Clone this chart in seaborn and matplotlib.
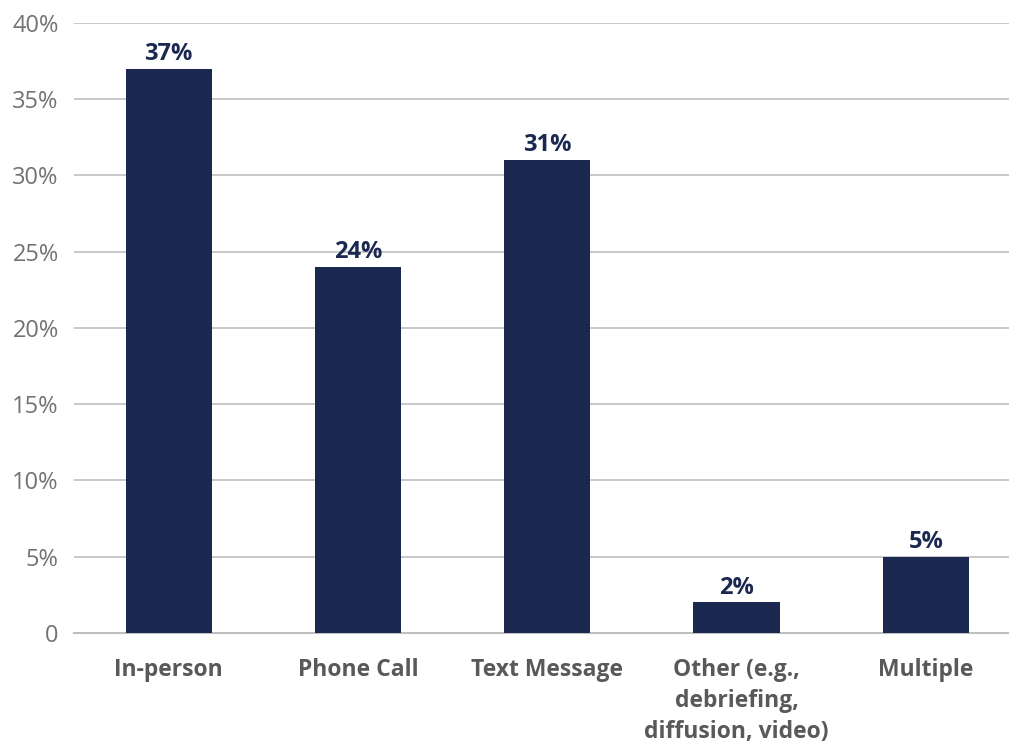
import matplotlib
matplotlib.use("Agg")
import matplotlib.pyplot as plt
import seaborn as sns
import pandas as pd
from matplotlib.ticker import FixedLocator

categories = ["In-person", "Phone Call", "Text Message",
              "Other (e.g.,\ndebriefing,\ndiffusion, video)", "Multiple"]
values = [37, 24, 31, 2, 5]
y_ticks = [0, 5, 10, 15, 20, 25, 30, 35, 40]
y_tick_labels = ["0", "5%", "10%", "15%", "20%", "25%", "30%", "35%", "40%"]

NAVY = "#1B2951"
GRID = "#BFBFBF"
LABEL_DARK = "#595959"
LABEL_LIGHT = "#727272"

sns.set_theme(style="white")
plt.rcParams["font.family"] = ["Open Sans", "DejaVu Sans"]
plt.rcParams["font.stretch"] = "normal"

df = pd.DataFrame({"category": categories, "value": values})

fig = plt.figure(figsize=(10.09, 7.46), dpi=100)
# the last category runs past the right edge of the figure
ax = fig.add_axes([0.0733, 0.1515, 0.938, 0.8177])

sns.barplot(data=df, x="category", y="value", color=NAVY, width=0.455,
            saturation=1, linewidth=0, ax=ax, zorder=3)

ax.set_ylim(0, 40)
ax.set_xlim(-0.5, len(categories) - 0.5)
ax.set_yticks(y_ticks)
ax.set_yticklabels(y_tick_labels, fontsize=17, color=LABEL_LIGHT)
ax.yaxis.grid(True, color=GRID, linewidth=1.2, zorder=0)
ax.set_axisbelow(True)

# category labels centered under bars, tick marks at category boundaries
ax.set_xticks(range(len(categories)))
ax.set_xticklabels(categories, fontsize=16.5, fontweight="bold",
                   color=LABEL_DARK, linespacing=1.38)
ax.tick_params(axis="x", which="major", length=0, pad=18)
ax.xaxis.set_minor_locator(FixedLocator([i - 0.5 for i in range(len(categories) + 1)]))
ax.tick_params(axis="x", which="minor", length=15, width=1.2, color=GRID, direction="out")
ax.tick_params(axis="y", length=0, pad=11)

for side in ["left", "right", "top"]:
    ax.spines[side].set_visible(False)
ax.spines["bottom"].set_color(GRID)
ax.spines["bottom"].set_linewidth(1.5)

ax.set_xlabel("")
ax.set_ylabel("")

for i, v in enumerate(values):
    ax.annotate(f"{v}%", xy=(i, v), xytext=(0, 2), textcoords="offset points",
                ha="center", va="bottom", fontsize=17, fontweight="bold",
                color=NAVY)

fig.savefig("out.png", dpi=100)
